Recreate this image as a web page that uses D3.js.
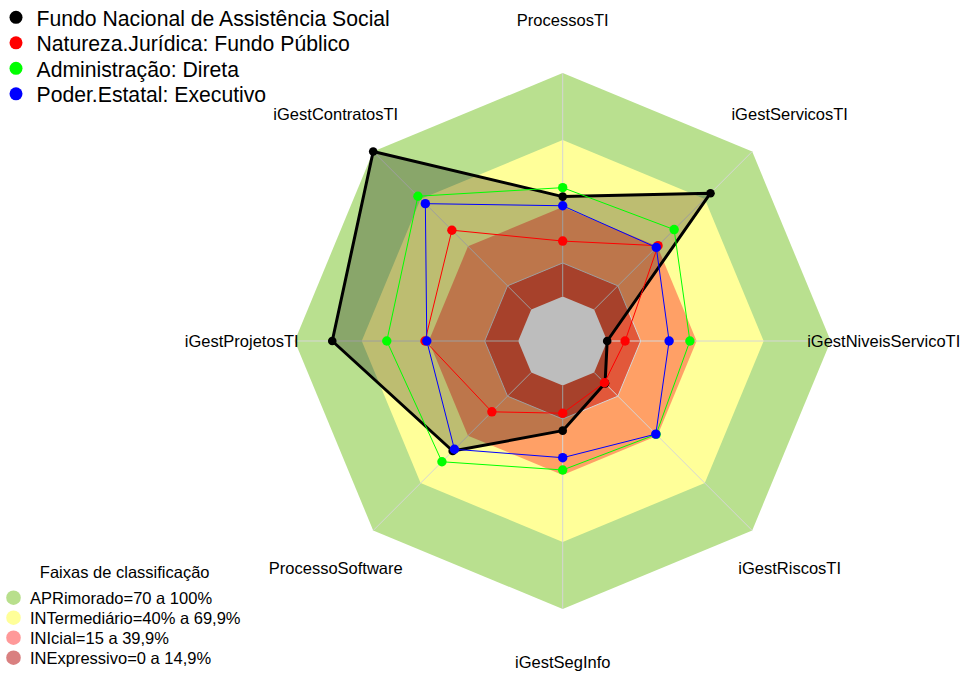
<!DOCTYPE html>
<html>
<head>
<meta charset="utf-8">
<script src="https://cdn.jsdelivr.net/npm/d3@7"></script>
<style>
	body { margin: 0; background: #fff; }
	svg text { font-family: "Liberation Sans", Arial, sans-serif; fill: #000; }
</style>
</head>
<body>
<svg id="chart" width="964" height="673"></svg>
<script>
const axes = ["ProcessosTI", "iGestServicosTI", "iGestNiveisServicoTI", "iGestRiscosTI",
	"iGestSegInfo", "ProcessoSoftware", "iGestProjetosTI", "iGestContratosTI"];

const fundoNacional = [44.7, 73.6, 0, 6.9, 20.2, 49.7, 83.2, 100];
const fundoPublico = [24.8, 40.4, 8.0, 6.5, 12.4, 24.9, 41.7, 50.2];
const adminDireta = [48.7, 50.6, 37.0, 39.2, 37.8, 56.5, 58.8, 71.7];
const poderExecutivo = [40.6, 39.3, 27.7, 39.0, 32.3, 48.6, 40.9, 67.0];

const seriesNames = ["Fundo Nacional de Assistência Social", "Natureza.Jurídica: Fundo Público",
	"Administração: Direta", "Poder.Estatal: Executivo"];
const seriesColors = ["#000000", "#ff0000", "#00ff00", "#0000ff"];

const bandLimits = [100, 70, 40, 15];
const bandColors = ["#b9e08f", "#ffff99", "#ffa066", "#e2583a"];
const bandLabels = ["APRimorado=70 a 100%", "INTermediário=40% a 69,9%", "INIcial=15 a 39,9%", "INExpressivo=0 a 14,9%"];
const bandLegendColors = ["#b8df8c", "#ffff99", "#ff9999", "#d98080"];

const svg = d3.select("#chart");
const cx = 562.7, cy = 341;

const r = d3.scaleLinear().domain([0, 100]).range([44.5, 268]);
const angle = d3.scaleLinear().domain([0, axes.length]).range([0, 2 * Math.PI]);

const radar = d3.lineRadial()
	.angle((d, i) => angle(i))
	.radius(d => r(d))
	.curve(d3.curveLinearClosed);

const ring = v => axes.map(() => v);
const pos = (v, i) => [Math.sin(angle(i)) * r(v), -Math.cos(angle(i)) * r(v)];

const g = svg.append("g").attr("transform", `translate(${cx},${cy})`);

// classification bands
g.selectAll("path.band")
	.data(bandLimits)
	.join("path")
	.attr("class", "band")
	.attr("d", v => radar(ring(v)))
	.attr("fill", (v, i) => bandColors[i]);

g.append("path")
	.attr("d", radar(ring(0)))
	.attr("fill", "#ffffff");

// grid
g.selectAll("line.axis")
	.data(axes)
	.join("line")
	.attr("class", "axis")
	.attr("x1", (d, i) => pos(0, i)[0])
	.attr("y1", (d, i) => pos(0, i)[1])
	.attr("x2", (d, i) => pos(100, i)[0])
	.attr("y2", (d, i) => pos(100, i)[1])
	.attr("stroke", "#d6d6d6")
	.attr("stroke-width", 1);

g.selectAll("path.grid")
	.data([15])
	.join("path")
	.attr("class", "grid")
	.attr("d", v => radar(ring(v)))
	.attr("fill", "none")
	.attr("stroke", "#d6d6d6")
	.attr("stroke-width", 1);

// series
const series = [fundoNacional, fundoPublico, adminDireta, poderExecutivo];

series.forEach((values, k) => {
	const main = k === 0;
	g.append("path")
		.attr("d", radar(values))
		.attr("fill", main ? "rgba(0,0,0,0.26)" : "none")
		.attr("stroke", seriesColors[k])
		.attr("stroke-width", main ? 3 : 1)
		.attr("stroke-linejoin", "round");

	g.selectAll(null)
		.data(values)
		.join("circle")
		.attr("cx", (d, i) => pos(d, i)[0])
		.attr("cy", (d, i) => pos(d, i)[1])
		.attr("r", main ? 4.3 : 4.7)
		.attr("fill", seriesColors[k]);
});

// axis labels
const labelR = 321;
g.selectAll("text.label")
	.data(axes)
	.join("text")
	.attr("class", "label")
	.attr("x", (d, i) => Math.sin(angle(i)) * labelR)
	.attr("y", (d, i) => -Math.cos(angle(i)) * labelR + 6)
	.attr("text-anchor", "middle")
	.attr("font-size", 16.5)
	.text(d => d);

// series legend
const legend = svg.append("g");
legend.selectAll("circle")
	.data(seriesNames)
	.join("circle")
	.attr("cx", 16)
	.attr("cy", (d, i) => 17.3 + i * 25.5)
	.attr("r", 6.5)
	.attr("fill", (d, i) => seriesColors[i]);
legend.selectAll("text")
	.data(seriesNames)
	.join("text")
	.attr("x", 36.5)
	.attr("y", (d, i) => 25.5 + i * 25.5)
	.attr("font-size", 21.2)
	.text(d => d);

// bands legend
const bandLegend = svg.append("g");
bandLegend.append("text")
	.attr("x", 124.7)
	.attr("y", 578)
	.attr("text-anchor", "middle")
	.attr("font-size", 16.5)
	.text("Faixas de classificação");
bandLegend.selectAll("circle")
	.data(bandLabels)
	.join("circle")
	.attr("cx", 13.5)
	.attr("cy", (d, i) => 597.7 + i * 20)
	.attr("r", 7.3)
	.attr("fill", (d, i) => bandLegendColors[i]);
bandLegend.selectAll("text.item")
	.data(bandLabels)
	.join("text")
	.attr("class", "item")
	.attr("x", 30)
	.attr("y", (d, i) => 603.5 + i * 20)
	.attr("font-size", 16.5)
	.text(d => d);
</script>
</body>
</html>
